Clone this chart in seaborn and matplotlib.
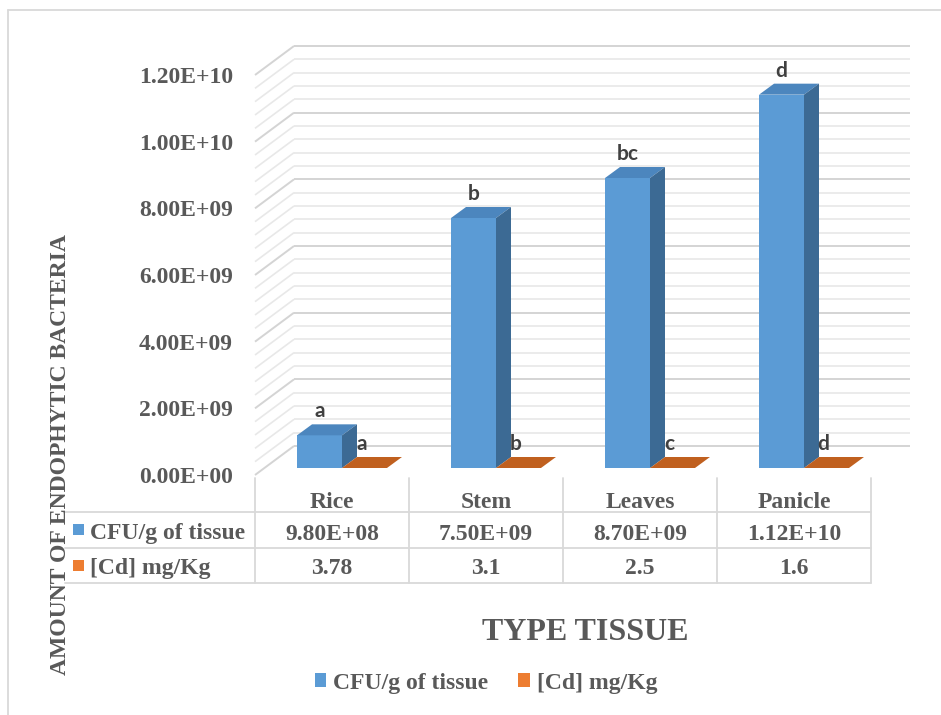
import numpy as np
import pandas as pd
import matplotlib
matplotlib.use('Agg')
import matplotlib.pyplot as plt
import seaborn as sns
from matplotlib.patches import Polygon, Patch
from matplotlib.lines import Line2D
from matplotlib.transforms import offset_copy, blended_transform_factory

# ---------------- data ----------------
categories = ['Rice', 'Stem', 'Leaves', 'Panicle']
series_names = ['CFU/g of tissue', '[Cd] mg/Kg']
cfu_values = [9.80e8, 7.50e9, 8.70e9, 1.12e10]
cd_values = [3.78, 3.1, 2.5, 1.6]
cfu_letters = ['a', 'b', 'bc', 'd']
cd_letters = ['a', 'b', 'c', 'd']
y_ticks = [0, 2e9, 4e9, 6e9, 8e9, 1.0e10, 1.2e10]
minor_step = 4e8
x_title = 'TYPE TISSUE'
y_title = 'AMOUNT OF ENDOPHYTIC BACTERIA'

# ---------------- style ----------------
sns.set_style('white')
SERIF = ['Liberation Serif', 'DejaVu Serif']
SANS = ['Lato', 'Liberation Sans', 'DejaVu Sans']
plt.rcParams['font.family'] = SERIF
TXT = '#595959'
BLUE, BLUE_TOP, BLUE_SIDE = '#5B9BD5', '#4C86BE', '#3C6A94'
ORANGE, ORANGE_TOP = '#ED7D31', '#C0601F'
GRID_MAJ, GRID_MIN = '#D4D4D4', '#E8E8E8'
FS = 17

W, H = 941, 715
fig = plt.figure(figsize=(W / 100, H / 100), dpi=100)
fig.patch.set_facecolor('white')


def fx(x):
    return x / W


def fy(y):
    return 1 - y / H


# front plane of the 3-D box
L, R, TOP, BOT = 255, 871, 75, 475
ax = fig.add_axes([fx(L), fy(BOT), (R - L) / W, (BOT - TOP) / H])

df = pd.DataFrame({
    'Tissue': categories * 2,
    'Series': [series_names[0]] * len(categories) + [series_names[1]] * len(categories),
    'Value': cfu_values + cd_values,
})
sns.barplot(data=df, x='Tissue', y='Value', hue='Series', order=categories,
            hue_order=series_names, palette=[BLUE, ORANGE], width=0.584,
            saturation=1, errorbar=None, legend=False, ax=ax, zorder=3)

ax.set_xlim(-0.5, len(categories) - 0.5)
ax.set_ylim(0, y_ticks[-1])
ax.set_xticks([])
ax.set_xlabel('')
ax.set_ylabel('')
ax.set_yticks(y_ticks)
ax.set_yticklabels([f'{v:.2E}' for v in y_ticks], fontsize=FS, fontweight='bold',
                   color=TXT, family=SERIF)
ax.tick_params(axis='y', length=0, pad=16)
for s in ax.spines.values():
    s.set_visible(False)
ax.patch.set_visible(False)

sx = (R - L) / (len(categories))          # px per x unit
sy = (BOT - TOP) / y_ticks[-1]            # px per y unit

# walls (depth offset in px)
WDX, WDY = 39, 29
wall_dx, wall_dy = WDX / sx, WDY / sy
x_lo, x_hi = ax.get_xlim()
nlines = int(round(y_ticks[-1] / minor_step))
for k in range(nlines + 1):
    v = k * minor_step
    major = (k % 5 == 0)
    col = GRID_MAJ if major else GRID_MIN
    lw = 1.4 if major else 1.2
    # back wall
    ax.plot([x_lo + wall_dx, x_hi + wall_dx], [v + wall_dy, v + wall_dy], color=col,
            lw=lw, clip_on=False, zorder=1, solid_capstyle='butt')
    # left wall
    ax.plot([x_lo, x_lo + wall_dx], [v, v + wall_dy], color=col, lw=lw,
            clip_on=False, zorder=1, solid_capstyle='butt')

# 3-D bar faces
bt = offset_copy(ax.transData, fig=fig, x=10, y=7, units='dots')
BDX, BDY = 15, 11
ddx, ddy = BDX / sx, BDY / sy
face_cols = [(BLUE_TOP, BLUE_SIDE), (ORANGE_TOP, '#A04E18')]
letters = [cfu_letters, cd_letters]
label_dx = [0, -3]
for si, cont in enumerate(ax.containers):
    top_c, side_c = face_cols[si]
    for bi, p in enumerate(cont.patches):
        p.set_transform(bt)
        p.set_clip_on(False)
        p.set_edgecolor('none')
        x0, w, h = p.get_x(), p.get_width(), p.get_height()
        top = Polygon([(x0, h), (x0 + w, h), (x0 + w + ddx, h + ddy), (x0 + ddx, h + ddy)],
                      closed=True, transform=bt, facecolor=top_c, edgecolor='none',
                      clip_on=False, zorder=4)
        ax.add_patch(top)
        if h * sy > 1:
            side = Polygon([(x0 + w, 0), (x0 + w, h), (x0 + w + ddx, h + ddy), (x0 + w + ddx, ddy)],
                           closed=True, transform=bt, facecolor=side_c, edgecolor='none',
                           clip_on=False, zorder=4)
            ax.add_patch(side)
        lt = offset_copy(ax.transData, fig=fig, x=10 + label_dx[si], y=7 + 18, units='dots')
        ax.text(x0 + w / 2, h, letters[si][bi], transform=lt, ha='center', va='baseline',
                fontsize=15, fontweight='bold', color='#404040', family=SANS, zorder=6)

# ---------------- data table ----------------
trans = blended_transform_factory(ax.transData, fig.transFigure)
for i, cat in enumerate(categories):
    ax.text(i, fy(508), cat, transform=trans, ha='center', va='baseline', fontsize=FS,
            fontweight='bold', color=TXT, clip_on=False)
    ax.text(i, fy(540), f'{cfu_values[i]:.2E}', transform=trans, ha='center', va='baseline',
            fontsize=FS, fontweight='bold', color=TXT, clip_on=False)
    ax.text(i, fy(574), f'{cd_values[i]:g}', transform=trans, ha='center', va='baseline',
            fontsize=FS, fontweight='bold', color=TXT, clip_on=False)

LINE = '#D9D9D9'
for yy in [512, 548, 583]:
    fig.add_artist(Line2D([fx(65), fx(R)], [fy(yy), fy(yy)], color=LINE, lw=1.3))
for i in range(len(categories) + 1):
    xx = L + i * sx
    fig.add_artist(Line2D([fx(xx), fx(xx)], [fy(478), fy(583)], color=LINE, lw=1.3))

for yy, col, name, base in [(529, BLUE, series_names[0], 539), (565, ORANGE, series_names[1], 574)]:
    fig.add_artist(matplotlib.patches.Rectangle((fx(73), fy(yy + 5.5)), 11 / W, 11 / H,
                                                transform=fig.transFigure, facecolor=col,
                                                edgecolor='none'))
    fig.text(fx(90), fy(base), name, ha='left', va='baseline', fontsize=FS,
             fontweight='bold', color=TXT)

# ---------------- titles ----------------
fig.text(fx(585), fy(632), x_title, ha='center', va='center', fontsize=23,
         fontweight='bold', color=TXT)
fig.text(fx(60), fy(455), y_title, ha='center', va='center', rotation=90, fontsize=FS,
         fontweight='bold', color=TXT)

# ---------------- legend ----------------
handles = [Patch(facecolor=BLUE, edgecolor='none', label=series_names[0]),
           Patch(facecolor=ORANGE, edgecolor='none', label=series_names[1])]
leg = fig.legend(handles=handles, loc='center', bbox_to_anchor=(fx(486), fy(683)), ncol=2,
                 frameon=False, handlelength=0.5, handleheight=0.5, handletextpad=0.3,
                 columnspacing=1.25, prop={'family': SERIF, 'weight': 'bold', 'size': FS})
for t in leg.get_texts():
    t.set_color(TXT)

# ---------------- border ----------------
fig.add_artist(Line2D([fx(8), fx(941)], [fy(10), fy(10)], color=LINE, lw=1.3))
fig.add_artist(Line2D([fx(8), fx(8)], [fy(10), fy(715)], color=LINE, lw=1.3))

fig.savefig('out.png', dpi=100, facecolor='white')
